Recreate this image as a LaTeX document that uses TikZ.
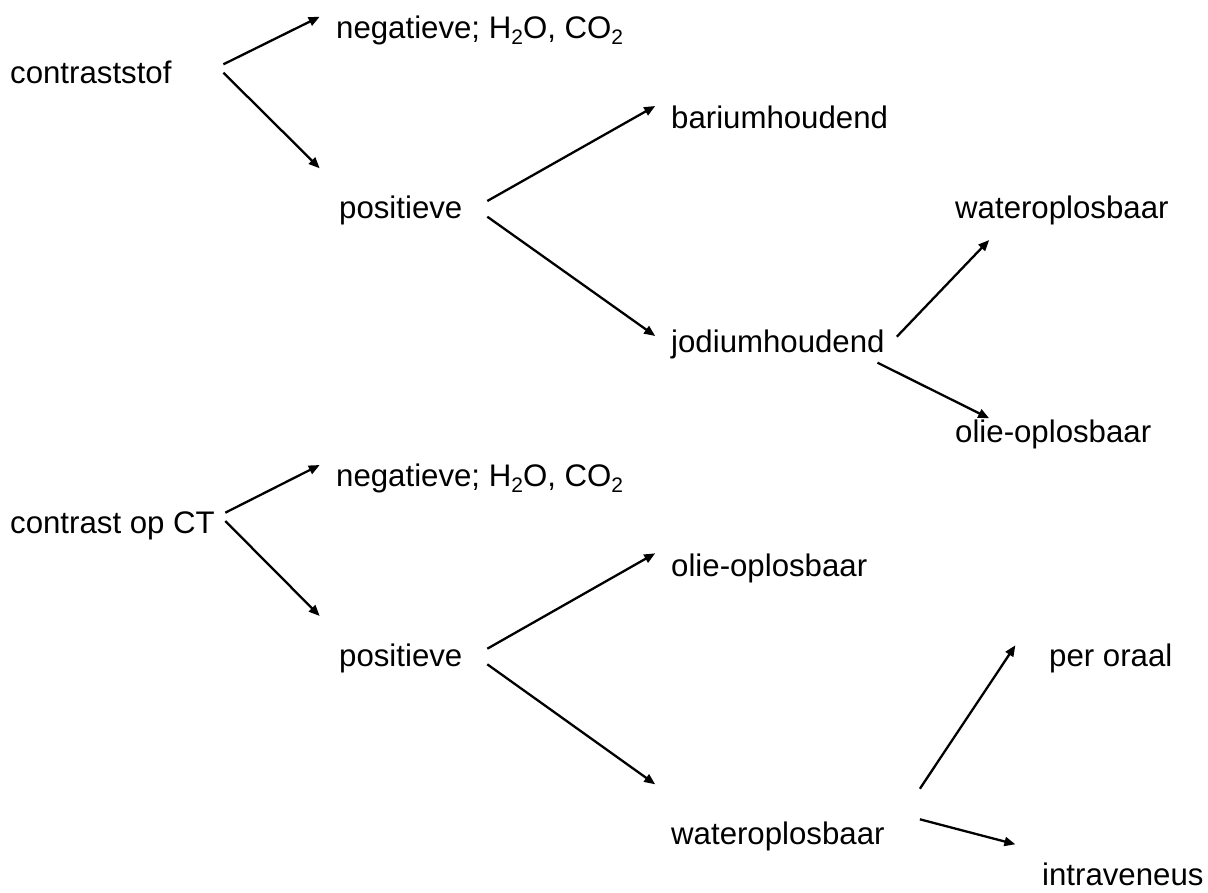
\documentclass[tikz,border=0pt]{standalone}
\usepackage{fontspec}
\setmainfont{Liberation Sans}
\usetikzlibrary{arrows.meta,calc}
\newcommand\lowdigit[1]{\raisebox{-0.2em}{\fontsize{21}{21}\selectfont #1}}
\begin{document}
\begin{tikzpicture}[x=1pt,y=-1pt,
  lbl/.style={font=\fontsize{31.2}{37}\selectfont, inner sep=0pt, anchor=base west},
  arr/.style={line width=2.3pt, -{Triangle[length=11pt,width=9pt]}}]
\useasboundingbox (0,0) rectangle (1208,892);
% nodes
\node[lbl] (cs) at (10,83) {contraststof};
\node[lbl] (n1) at (336,38) {negatieve; H\lowdigit{2}O, CO\lowdigit{2}};
\node[lbl] (p1) at (339,218) {positieve};
\node[lbl] (ba) at (671,128) {bariumhoudend};
\node[lbl] (jo) at (671,352) {jodiumhoudend};
\node[lbl] (w1) at (955,218) {wateroplosbaar};
\node[lbl] (o1) at (955,442) {olie-oplosbaar};
\node[lbl] (ct) at (10,533) {contrast op CT};
\node[lbl] (n2) at (336,486) {negatieve; H\lowdigit{2}O, CO\lowdigit{2}};
\node[lbl] (p2) at (339,666) {positieve};
\node[lbl] (o2) at (671,576) {olie-oplosbaar};
\node[lbl] (w2) at (671,844) {wateroplosbaar};
\node[lbl] (po) at (1049,666) {per oraal};
\node[lbl] (iv) at (1042,885) {intraveneus};
% connectors
\draw[arr] ($(cs.base west)+(213.4,-18.7)$) -- ($(n1.base west)+(-16.3,-21.3)$);
\draw[arr] ($(cs.base west)+(213.4,-10.3)$) -- ($(p1.base west)+(-19.3,-49.7)$);
\draw[arr] ($(p1.base west)+(148.3,-17)$) -- ($(ba.base west)+(-15.8,-22)$);
\draw[arr] ($(p1.base west)+(148.3,-1.3)$) -- ($(jo.base west)+(-15.8,-16)$);
\draw[arr] ($(jo.base west)+(225.8,-15.3)$) -- ($(w1.base west)+(34.2,22)$);
\draw[arr] ($(jo.base west)+(206.5,10.7)$) -- ($(o1.base west)+(34.2,-23.7)$);
\draw[arr] ($(ct.base west)+(215.3,-20.3)$) -- ($(n2.base west)+(-16.3,-21)$);
\draw[arr] ($(ct.base west)+(215.3,-12)$) -- ($(p2.base west)+(-19.3,-50)$);
\draw[arr] ($(p2.base west)+(148.3,-17.3)$) -- ($(o2.base west)+(-15.8,-22.7)$);
\draw[arr] ($(p2.base west)+(148.3,-1.7)$) -- ($(w2.base west)+(-15.8,-59.7)$);
\draw[arr] ($(w2.base west)+(248.9,-55.3)$) -- ($(po.base west)+(-33.6,-20.7)$);
\draw[arr] ($(w2.base west)+(248.9,-24.7)$) -- ($(iv.base west)+(-26.6,-40.7)$);
\end{tikzpicture}
\end{document}
